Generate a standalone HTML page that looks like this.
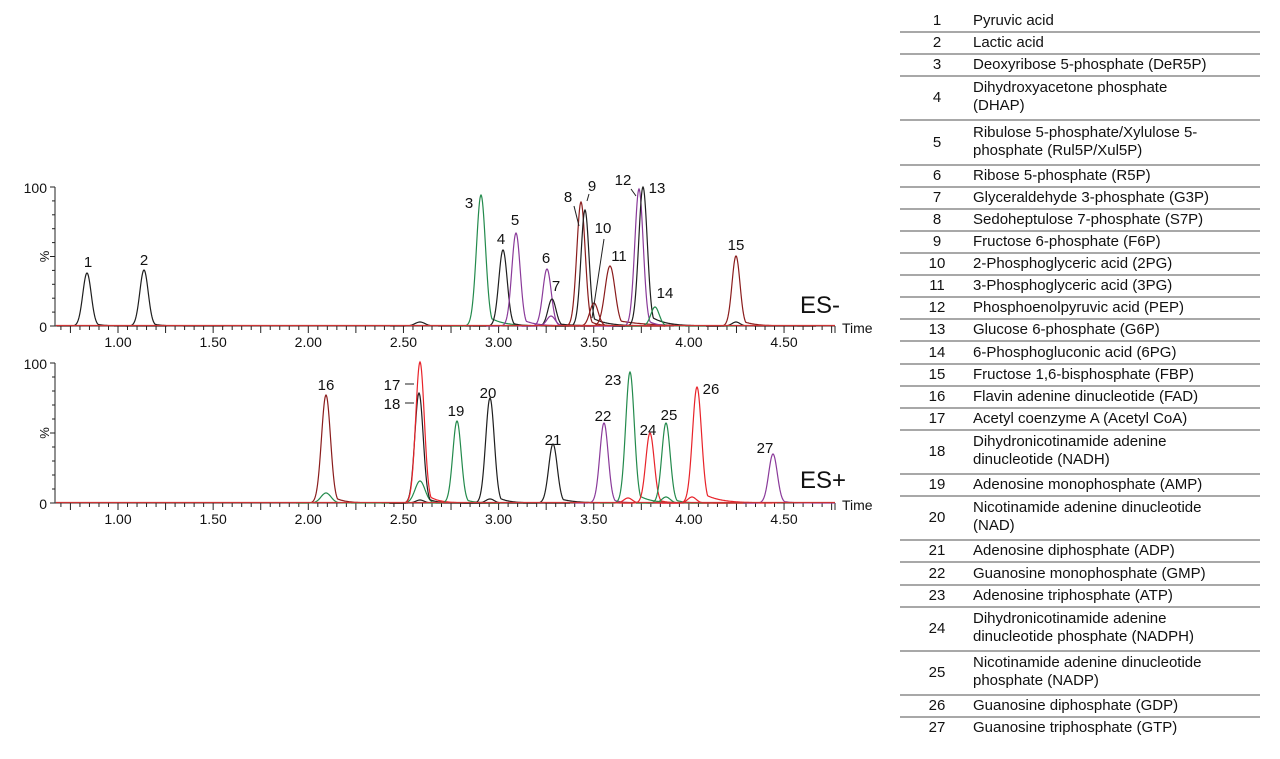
<!DOCTYPE html>
<html><head><meta charset="utf-8">
<style>
body{margin:0;background:#fff;width:1280px;height:759px;overflow:hidden;position:relative;font-family:"Liberation Sans",Arial,sans-serif;}
svg{position:absolute;left:0;top:0}
svg text{font-family:"Liberation Sans",Arial,sans-serif;fill:#111}
.row{position:absolute;left:900px;width:360px;font-size:15px;color:#111;line-height:18px;border-bottom:2px solid #a8a8a8;box-sizing:border-box}
.row .n{position:absolute;left:22px;width:30px;text-align:center}
.row .t{position:absolute;left:73px;width:285px}
</style></head><body>
<svg id="s" width="1280" height="759" xmlns="http://www.w3.org/2000/svg"><defs><clipPath id="cp"><rect x="55" y="0" width="780" height="759"/></clipPath></defs></svg>
<div id="tbl"></div>
<script>
const S=document.getElementById('s');const NS='http://www.w3.org/2000/svg';
function el(t,a,txt,p){const e=document.createElementNS(NS,t);for(const k in a)e.setAttribute(k,a[k]);if(txt!==undefined)e.textContent=txt;(p||S).appendChild(e);return e;}
const C={k:'#1e1e1e',g:'#238a4c',p:'#8a3a9a',d:'#8a1c1c',r:'#e8232a'};
function X(t){return 118+(t-1)*190.3;}
function axes(y0,y100){
 el('line',{x1:55,y1:y100,x2:55,y2:y0,stroke:'#222','stroke-width':1});
 el('line',{x1:55,y1:y0,x2:835,y2:y0,stroke:'#222','stroke-width':1});
 for(let i=0;i<=10;i++){const y=y0-(y0-y100)*i/10;const L=(i%5==0)?5:3;el('line',{x1:55-L,y1:y,x2:55,y2:y,stroke:'#222','stroke-width':1});}
 el('text',{x:47,y:y100+6,'font-size':14,'text-anchor':'end'},'100');
 el('text',{x:47,y:y0+6,'font-size':14,'text-anchor':'end'},'0');
 el('text',{x:45,y:(y0+y100)/2+4,'font-size':13,'text-anchor':'middle',transform:`rotate(-90 45 ${(y0+y100)/2})`},'%');
 for(let k=14;k<=95;k++){const t=k*0.05;const x=X(t);if(x>835.5)break;const maj=(k%5==0);el('line',{x1:x,y1:y0,x2:x,y2:y0+(maj?7:4),stroke:'#222','stroke-width':1});}
 for(let t=1;t<=4.5;t+=0.5){el('text',{x:X(t),y:y0+21,'font-size':14,'text-anchor':'middle'},t.toFixed(2));}
 el('line',{x1:835,y1:y0,x2:835,y2:y0+7,stroke:'#222'});
 el('text',{x:842,y:y0+7,'font-size':14},'Time');
}
function peaks(y0,list){
 const g=el('g',{'clip-path':'url(#cp)'});
 list.forEach(([x,yp,c,w,tail])=>{w=w||4.2;tail=tail||8;const h=y0-yp;let d='';
  for(let px=x-30;px<=x+80;px+=0.5){const dx=px-x;let v;
   if(dx<0)v=Math.exp(-dx*dx/(2*w*w));else{const gg=Math.exp(-dx*dx/(2*w*w));v=Math.max(gg,0.12*Math.exp(-dx/tail)*(1-Math.exp(-dx/2)))}
   d+=(d?'L':'M')+px.toFixed(1)+' '+(y0-h*v).toFixed(1);}
  el('path',{d,fill:'none',stroke:C[c],'stroke-width':1.2},undefined,g);});
 el('line',{x1:56,y1:y0-0.5,x2:835,y2:y0-0.5,stroke:'#c33','stroke-width':1.3});
}
function lab(x,y,t,s){el('text',{x,y,'font-size':s||15,'text-anchor':'middle'},t);}
// top
axes(326,187);
peaks(326,[[87,273,'k'],[144,270,'k'],[420,322,'k',5],[481,195,'g',4.5,14],[503,250,'k'],[516,233,'p',4.2,12],[547,269,'p'],[552,299,'k',4,16],[551,316,'p'],[581,202,'d'],[585,210,'k',4,14],[594,303,'d'],[610,266,'d',5,28],[639,189,'p'],[643,187,'k',4.3,14],[655,307,'g'],[736,256,'d',4,12],[736,322,'k',4]]);
[[88,267,'1'],[144,265,'2'],[469,208,'3'],[501,244,'4'],[515,225,'5'],[546,263,'6'],[556,291,'7'],[568,202,'8'],[592,191,'9'],[603,233,'10'],[619,261,'11'],[623,185,'12'],[657,193,'13'],[665,298,'14'],[736,250,'15']].forEach(a=>lab(...a));
[[574,206,579,226],[589,194,587,201],[604,239,592,318],[631,189,636,196]].forEach(([a,b,c,d])=>el('line',{x1:a,y1:b,x2:c,y2:d,stroke:'#222','stroke-width':1}));
el('text',{x:800,y:313,'font-size':24},'ES-');
// bottom
axes(503,363);
peaks(503,[[326,395,'d',4.5,10],[326,493,'g',5],[420,481,'g',5],[419,393,'k'],[420,362,'r',4.3,10],[420,500,'k'],[457,421,'g'],[490,398,'k',4.3,10],[490,499,'k'],[553,444,'k',4.3,14],[604,423,'p'],[628,498,'r'],[630,372,'g',4.3,12],[650,433,'r'],[666,423,'g'],[666,497,'g'],[692,497,'r'],[697,387,'r',4.5,16],[773,454,'p',4.3,8]]);
[[326,390,'16'],[603,421,'22'],[456,416,'19'],[488,398,'20'],[553,445,'21'],[613,385,'23'],[648,435,'24'],[669,420,'25'],[711,394,'26'],[765,453,'27']].forEach(a=>lab(...a));
el('text',{x:392,y:390,'font-size':15,'text-anchor':'middle'},'17');
el('text',{x:392,y:409,'font-size':15,'text-anchor':'middle'},'18');
el('line',{x1:405,y1:384,x2:414,y2:384,stroke:'#222'});el('line',{x1:405,y1:403,x2:414,y2:403,stroke:'#222'});
el('text',{x:800,y:488,'font-size':24},'ES+');
// table
const rows=[['1','Pyruvic acid'],['2','Lactic acid'],['3','Deoxyribose 5-phosphate (DeR5P)'],['4','Dihydroxyacetone phosphate<br>(DHAP)'],['5','Ribulose 5-phosphate/Xylulose 5-<br>phosphate (Rul5P/Xul5P)'],['6','Ribose 5-phosphate (R5P)'],['7','Glyceraldehyde 3-phosphate (G3P)'],['8','Sedoheptulose 7-phosphate (S7P)'],['9','Fructose 6-phosphate (F6P)'],['10','2-Phosphoglyceric acid (2PG)'],['11','3-Phosphoglyceric acid (3PG)'],['12','Phosphoenolpyruvic acid (PEP)'],['13','Glucose 6-phosphate (G6P)'],['14','6-Phosphogluconic acid (6PG)'],['15','Fructose 1,6-bisphosphate (FBP)'],['16','Flavin adenine dinucleotide (FAD)'],['17','Acetyl coenzyme A (Acetyl CoA)'],['18','Dihydronicotinamide adenine<br>dinucleotide (NADH)'],['19','Adenosine monophosphate (AMP)'],['20','Nicotinamide adenine dinucleotide<br>(NAD)'],['21','Adenosine diphosphate (ADP)'],['22','Guanosine monophosphate (GMP)'],['23','Adenosine triphosphate (ATP)'],['24','Dihydronicotinamide adenine<br>dinucleotide phosphate (NADPH)'],['25','Nicotinamide adenine dinucleotide<br>phosphate (NADP)'],['26','Guanosine diphosphate (GDP)'],['27','Guanosine triphosphate (GTP)']];
let y=11,h='';const U=22.1;
rows.forEach((r,i)=>{const dbl=r[1].includes('<br>');const H=dbl?2*U:U;
 h+=`<div class="row" style="top:${y.toFixed(1)}px;height:${H.toFixed(1)}px;${i==26?'border-bottom:none;':''}"><div class="n" style="top:${(H-18)/2-1}px">${r[0]}</div><div class="t" style="top:${dbl?2:(H-18)/2-1}px">${r[1]}</div></div>`;y+=H;});
document.getElementById('tbl').innerHTML=h;
</script>
</body></html>
